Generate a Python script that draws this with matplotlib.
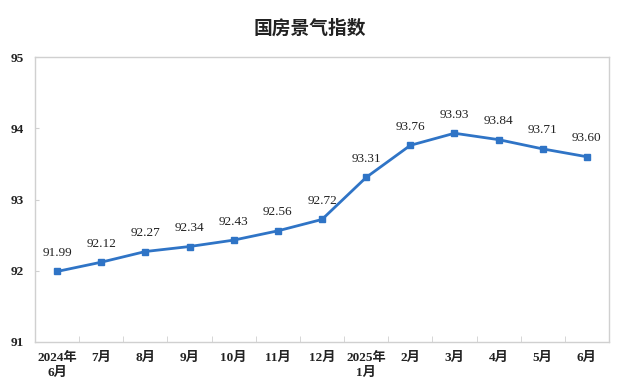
import matplotlib
matplotlib.use('Agg')
import matplotlib.pyplot as plt

months = ['2024年\n6月', '7月', '8月', '9月', '10月', '11月', '12月',
          '2025年\n1月', '2月', '3月', '4月', '5月', '6月']
index_values = [91.99, 92.12, 92.27, 92.34, 92.43, 92.56, 92.72,
                93.31, 93.76, 93.93, 93.84, 93.71, 93.60]
y_ticks = [91, 92, 93, 94, 95]

serif = ['Liberation Serif', 'Noto Sans CJK SC']
line_color = '#2F74C6'
frame_color = '#D0D0D0'

fig = plt.figure(figsize=(6.37, 3.91), dpi=100)
ax = fig.add_axes([35 / 637, 1 - 342 / 391, 574 / 637, 285 / 391])

x = list(range(len(months)))
ax.plot(x, index_values, color=line_color, linewidth=2.0,
        marker='s', markersize=4, markerfacecolor=line_color,
        markeredgecolor=line_color)

for xi, v in zip(x, index_values):
    ax.annotate(f'{v:.2f}', (xi, v), xytext=(0, 9), textcoords='offset points',
                ha='center', va='bottom', fontsize=9.5, family=serif,
                color='#222222')

ax.set_xlim(-0.5, len(months) - 0.5)
ax.set_ylim(91, 95)
ax.set_yticks(y_ticks)
ax.set_yticklabels([str(t) for t in y_ticks], family=serif, fontsize=9.5,
                   fontweight='bold', color='#222222')

# category labels centered, tick marks at the boundaries
ax.set_xticks(x)
ax.set_xticklabels(months, family=serif, fontsize=9.5, fontweight='bold',
                   color='#222222', linespacing=1.3)
ax.tick_params(axis='x', which='major', length=0, pad=7)
ax.set_xticks([i + 0.5 for i in x[:-1]], minor=True)
ax.tick_params(axis='x', which='minor', length=4, color=frame_color,
               direction='in')
ax.tick_params(axis='y', length=3, color=frame_color, direction='in', pad=8)

for s in ax.spines.values():
    s.set_color(frame_color)
    s.set_linewidth(1.0)

fig.text(310 / 637, 1 - 28 / 391, '国房景气指数', ha='center', va='center',
         fontsize=13.5, fontweight='bold', family=['Noto Sans CJK SC'],
         color='#222222')

fig.savefig('out.png', dpi=100)
